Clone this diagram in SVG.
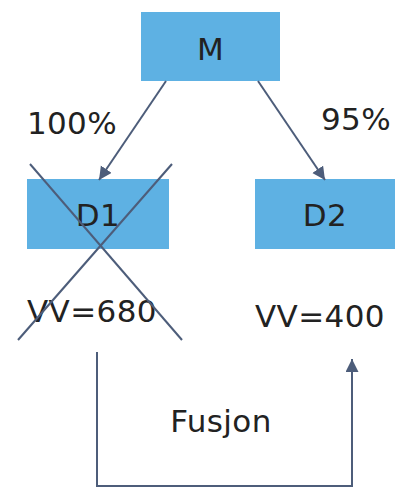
<svg xmlns="http://www.w3.org/2000/svg" width="397" height="488" viewBox="0 0 397 488">
  <style>
    .box { fill: #5eb1e3; }
    .lbl { font-family: "DejaVu Sans", Verdana, sans-serif; font-size: 31px; fill: #222222; text-anchor: middle; letter-spacing: 0.4px; }
    .edge { stroke: #4d5d7a; stroke-width: 2; fill: none; }
  </style>
  <defs>
    <marker id="arrow" markerWidth="14" markerHeight="14" refX="13" refY="6.5" orient="auto" markerUnits="userSpaceOnUse">
      <path d="M0,0 L13,6.5 L0,13 Z" fill="#4d5d7a"/>
    </marker>
  </defs>
  <rect width="397" height="488" fill="#ffffff"/>

  <g id="node-M">
    <rect class="box" x="141" y="12" width="139" height="69"/>
    <text class="lbl" x="210.5" y="60">M</text>
  </g>

  <g id="node-D1">
    <rect class="box" x="27" y="179" width="142" height="70"/>
    <text class="lbl" x="98" y="226">D1</text>
    <text class="lbl" x="92" y="322">VV=680</text>
  </g>

  <g id="node-D2">
    <rect class="box" x="255" y="179" width="140" height="70"/>
    <text class="lbl" x="325" y="226">D2</text>
    <text class="lbl" x="320" y="327">VV=400</text>
  </g>

  <g id="connectors">
    <line class="edge" x1="166" y1="81" x2="99" y2="180" marker-end="url(#arrow)"/>
    <line class="edge" x1="258" y1="81" x2="325" y2="180" marker-end="url(#arrow)"/>
    <polyline class="edge" points="97,352 97,486 352,486 352,359" marker-end="url(#arrow)"/>
    <text class="lbl" x="72" y="134">100%</text>
    <text class="lbl" x="356" y="130">95%</text>
    <text class="lbl" x="221" y="432">Fusjon</text>
  </g>

  <g id="strike">
    <line class="edge" x1="30" y1="164" x2="182" y2="340"/>
    <line class="edge" x1="172" y1="164" x2="18" y2="340"/>
  </g>
</svg>
